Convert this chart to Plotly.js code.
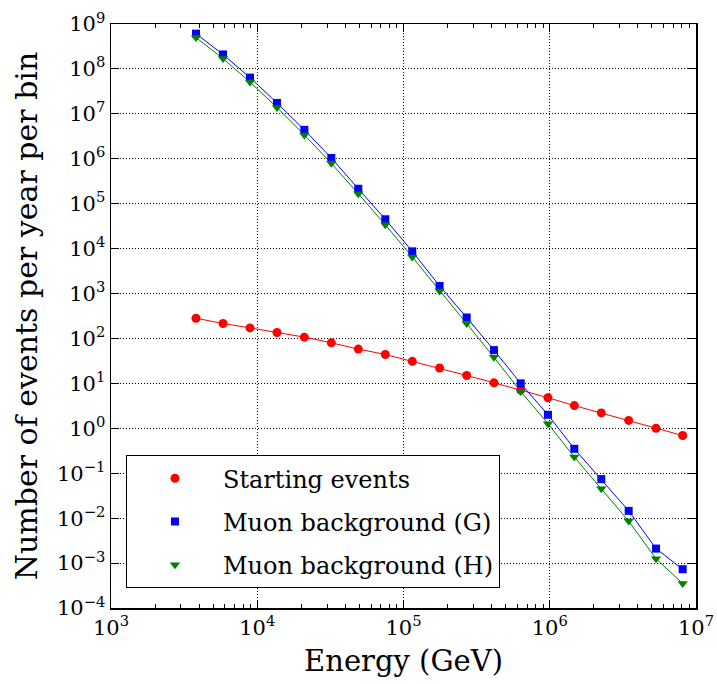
<!DOCTYPE html>
<html>
<head>
<meta charset="utf-8">
<script src="https://cdn.plot.ly/plotly-3.0.1.min.js"></script>
<style>html,body{margin:0;padding:0;background:#fff;}#chart{width:717px;height:684px;}</style>
</head>
<body>
<div id="chart"></div>
<script>
const energy = [3812, 5834, 8920, 13640, 20990, 32100, 49080, 75100, 114800, 176500, 270300, 415600, 632700, 972000, 1472000, 2251000, 3465000, 5330000, 8110000];
const startingEvents = [282, 215, 172, 136, 107, 80, 58, 44, 31, 22, 15, 10.3, 7.1, 4.8, 3.2, 2.2, 1.5, 1.0, 0.69];
const muonG = [6.1e8, 2.1e8, 6.4e7, 1.75e7, 4.4e6, 1.04e6, 2.15e5, 4.5e4, 8.7e3, 1.47e3, 293, 55, 10, 2.0, 0.35, 0.074, 0.0145, 0.0021, 7.3e-4];
const muonH = [5.0e8, 1.7e8, 5.1e7, 1.39e7, 3.4e6, 7.9e5, 1.67e5, 3.4e4, 6.5e3, 1.14e3, 215, 38, 6.6, 1.27, 0.23, 0.045, 0.0086, 1.25e-3, 3.5e-4];
const seriesNames = ["Starting events", "Muon background (G)", "Muon background (H)"];
const xTickVals = [1e3, 1e4, 1e5, 1e6, 1e7];
const xTickText = ["10<sup>3</sup>", "10<sup>4</sup>", "10<sup>5</sup>", "10<sup>6</sup>", "10<sup>7</sup>"];
const yTickVals = [1e-4, 1e-3, 1e-2, 1e-1, 1e0, 1e1, 1e2, 1e3, 1e4, 1e5, 1e6, 1e7, 1e8, 1e9];
const yTickText = ["10<sup>−4</sup>", "10<sup>−3</sup>", "10<sup>−2</sup>", "10<sup>−1</sup>", "10<sup>0</sup>", "10<sup>1</sup>", "10<sup>2</sup>", "10<sup>3</sup>", "10<sup>4</sup>", "10<sup>5</sup>", "10<sup>6</sup>", "10<sup>7</sup>", "10<sup>8</sup>", "10<sup>9</sup>"];
const xMinorVals = [];
for (let d = 1e3; d < 1e7; d *= 10) for (let k = 2; k <= 9; k++) xMinorVals.push(k * d);

const FONT = "DejaVu Serif";
const series = [
  {y: startingEvents, color: "#ff0000", symbol: "circle", size: 9},
  {y: muonG, color: "#0000ff", symbol: "square", size: 8},
  {y: muonH, color: "#008000", symbol: "triangle-down", size: 9}
];
const traces = [];
series.forEach((s, i) => {
  traces.push({x: energy, y: s.y, type: "scatter", mode: "lines", line: {color: s.color, width: 1}, showlegend: false, hoverinfo: "skip"});
});
series.forEach((s, i) => {
  traces.push({x: energy, y: s.y, type: "scatter", mode: "markers", name: seriesNames[i], legendgroup: "g" + i,
    marker: {color: s.color, symbol: s.symbol, size: s.size, line: {width: 0}}});
});

const layout = {
  width: 717, height: 684,
  margin: {l: 111, r: 21, t: 24, b: 76},
  paper_bgcolor: "#fff", plot_bgcolor: "#fff",
  font: {family: FONT, color: "#000", size: 21},
  xaxis: {
    type: "log", range: [3, 7], tickmode: "array", tickvals: xTickVals, ticktext: xTickText,
    ticks: "inside", ticklen: 8, tickwidth: 1, tickcolor: "#000",
    showline: true, linecolor: "#000", linewidth: 1.5, mirror: "allticks",
    showgrid: true, gridcolor: "#000", griddash: "1px,2px", gridwidth: 1,
    zeroline: false,
    minor: {ticks: "inside", ticklen: 4, tickwidth: 1, tickcolor: "#000", tickmode: "array", tickvals: xMinorVals, showgrid: false},
    tickfont: {size: 21, family: FONT},
    title: {text: "Energy (GeV)", font: {size: 29, family: FONT}, standoff: 12}
  },
  yaxis: {
    type: "log", range: [-4, 9], tickmode: "array", tickvals: yTickVals, ticktext: yTickText,
    ticks: "inside", ticklen: 8, tickwidth: 1, tickcolor: "#000",
    showline: true, linecolor: "#000", linewidth: 1.5, mirror: "allticks",
    showgrid: true, gridcolor: "#000", griddash: "1px,2px", gridwidth: 1,
    zeroline: false,
    tickfont: {size: 21, family: FONT},
    title: {text: "Number of events per year per bin", font: {size: 30, family: FONT}, standoff: 10}
  },
  legend: {
    x: 0.0256, y: 0.034, xanchor: "left", yanchor: "bottom",
    bgcolor: "#fff", bordercolor: "#000", borderwidth: 1,
    font: {size: 24, family: FONT},
    traceorder: "grouped", tracegroupgap: 9, itemwidth: 86
  },
  showlegend: true
};
Plotly.newPlot("chart", traces, layout, {displayModeBar: false, staticPlot: true});
</script>
</body>
</html>
